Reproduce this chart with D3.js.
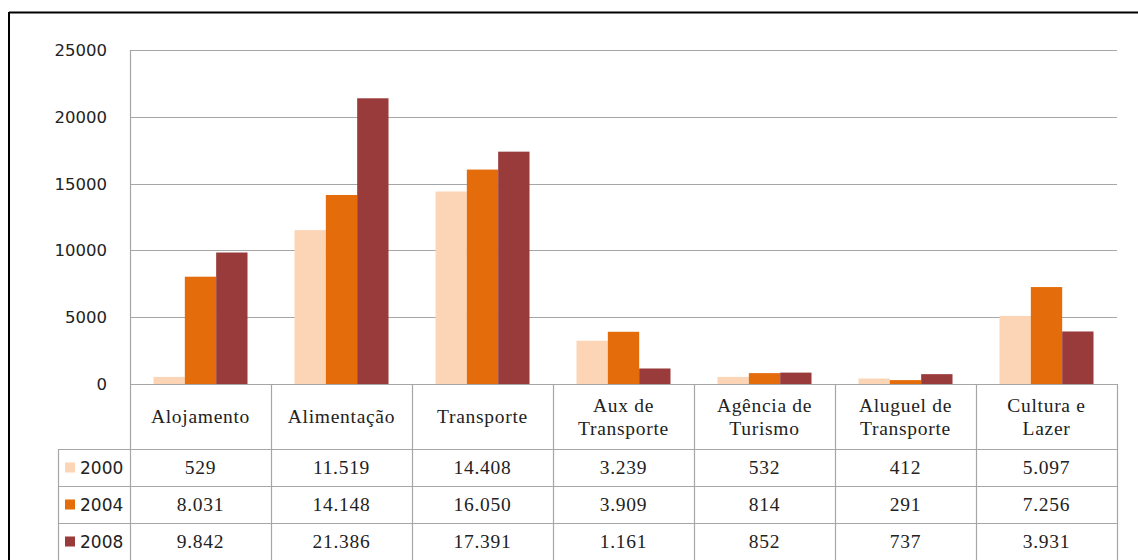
<!DOCTYPE html>
<html>
<head>
<meta charset="utf-8">
<script src="https://cdn.jsdelivr.net/npm/d3@7"></script>
<style>
  html, body { margin: 0; padding: 0; background: #fff; }
  svg { display: block; }
</style>
</head>
<body>
<svg id="chart" width="1138" height="560"></svg>
<script>
// Categories (line breaks marked with "|")
const categories = ["Alojamento", "Alimentação", "Transporte", "Aux de|Transporte",
                    "Agência de|Turismo", "Aluguel de|Transporte", "Cultura e|Lazer"];
const years = ["2000", "2004", "2008"];
const values2000 = [529, 11519, 14408, 3239, 532, 412, 5097];
const values2004 = [8031, 14148, 16050, 3909, 814, 291, 7256];
const values2008 = [9842, 21386, 17391, 1161, 852, 737, 3931];
const yTicks = [0, 5000, 10000, 15000, 20000, 25000];
const colors = ["#FBD5B5", "#E46C0A", "#993B3A"];

const seriesValues = [values2000, values2004, values2008];
const series = years.map((yr, i) => ({ year: yr, values: seriesValues[i], color: colors[i] }));

const ptBR = d3.formatLocale({ decimal: ",", thousands: ".", grouping: [3], currency: ["R$", ""] });
const fmt = ptBR.format(",d");

const svg = d3.select("#chart");
const plotLeft = 130, plotRight = 1117, plotTop = 50, plotBottom = 384;
const headerBottom = 449, rowH = 37;
const legendLeft = 58;
const gridColor = "#a6a6a6";

const x = d3.scaleBand().domain(categories).range([plotLeft, plotRight]).padding(0);
const xs = d3.scaleBand().domain(years).range([0, x.bandwidth()]).paddingInner(0).paddingOuter(0.75);
const y = d3.scaleLinear().domain([0, 25000]).range([plotBottom, plotTop]);

// Outer frame
svg.append("line").attr("x1", 9).attr("x2", 1138).attr("y1", 12.5).attr("y2", 12.5)
  .attr("stroke", "#000").attr("stroke-width", 2);
svg.append("line").attr("x1", 9).attr("x2", 9).attr("y1", 12).attr("y2", 560)
  .attr("stroke", "#000").attr("stroke-width", 2);

// Gridlines
svg.append("g").selectAll("line").data(yTicks).join("line")
  .attr("x1", plotLeft).attr("x2", plotRight)
  .attr("y1", d => Math.round(y(d)) + 0.5).attr("y2", d => Math.round(y(d)) + 0.5)
  .attr("stroke", gridColor).attr("stroke-width", 1.2);

// Y axis labels
svg.append("g").selectAll("text").data(yTicks).join("text")
  .attr("x", 107).attr("y", d => y(d)).attr("dy", "0.36em")
  .attr("text-anchor", "end")
  .attr("font-family", "DejaVu Sans, Verdana, sans-serif").attr("font-size", 16.5)
  .attr("fill", "#222")
  .text(d => d);

// Bars
const groups = svg.append("g").selectAll("g").data(series).join("g").attr("fill", d => d.color);
groups.selectAll("rect").data(s => s.values.map((v, i) => ({ cat: categories[i], year: s.year, v })))
  .join("rect")
  .attr("x", d => x(d.cat) + xs(d.year))
  .attr("width", xs.bandwidth())
  .attr("y", d => y(d.v))
  .attr("height", d => y(0) - y(d.v));

// Axis line at the base of the plot (also top of the data table)
svg.append("line").attr("x1", plotLeft).attr("x2", plotRight).attr("y1", plotBottom + 0.5).attr("y2", plotBottom + 0.5)
  .attr("stroke", gridColor).attr("stroke-width", 1.2);
svg.append("line").attr("x1", plotLeft + 0.5).attr("x2", plotLeft + 0.5).attr("y1", plotTop).attr("y2", 560)
  .attr("stroke", gridColor).attr("stroke-width", 1.2);

// Data table: column separators
const tableLines = svg.append("g").attr("stroke", gridColor).attr("stroke-width", 1.2);
categories.forEach(c => {
  const xr = Math.round(x(c) + x.bandwidth()) + 0.5;
  tableLines.append("line").attr("x1", xr).attr("x2", xr).attr("y1", plotBottom).attr("y2", 560);
});
// row separators
[0, 1, 2].forEach(i => {
  const yy = headerBottom + i * rowH + 0.5;
  tableLines.append("line").attr("x1", legendLeft).attr("x2", plotRight).attr("y1", yy).attr("y2", yy);
});
tableLines.append("line").attr("x1", legendLeft + 0.5).attr("x2", legendLeft + 0.5)
  .attr("y1", headerBottom).attr("y2", 560);

// Category headers
const serif = "Liberation Serif, Times New Roman, serif";
const hdr = svg.append("g").attr("font-family", serif).attr("font-size", 19.5)
  .attr("letter-spacing", 0.7).attr("fill", "#222").attr("text-anchor", "middle");
categories.forEach(c => {
  const lines = c.split("|");
  const cx = x(c) + x.bandwidth() / 2;
  const mid = (plotBottom + headerBottom) / 2;
  const lh = 23;
  lines.forEach((ln, j) => {
    hdr.append("text").attr("x", cx)
      .attr("y", mid + (j - (lines.length - 1) / 2) * lh)
      .attr("dy", "0.35em").text(ln);
  });
});

// Value rows with legend keys
series.forEach((s, i) => {
  const cy = headerBottom + i * rowH + rowH / 2;
  svg.append("rect").attr("x", 65).attr("y", cy - 5).attr("width", 10).attr("height", 10)
    .attr("fill", s.color);
  svg.append("text").attr("x", 80).attr("y", cy).attr("dy", "0.36em")
    .attr("font-family", "DejaVu Sans, Verdana, sans-serif").attr("font-size", 17)
    .attr("fill", "#222").text(s.year);
  svg.append("g").selectAll("text").data(s.values).join("text")
    .attr("x", (d, k) => x(categories[k]) + x.bandwidth() / 2)
    .attr("y", cy).attr("dy", "0.35em")
    .attr("text-anchor", "middle")
    .attr("font-family", serif).attr("font-size", 19.5).attr("letter-spacing", 0.7)
    .attr("fill", "#222")
    .text(d => fmt(d));
});
</script>
</body>
</html>
